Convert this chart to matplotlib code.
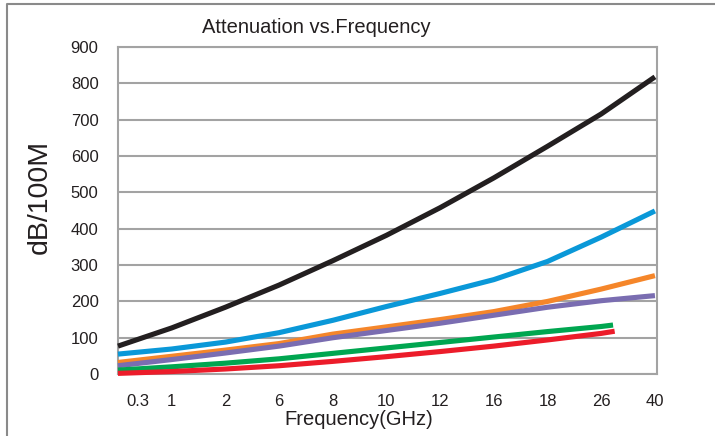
import matplotlib
matplotlib.use('Agg')
import matplotlib.pyplot as plt
from matplotlib.lines import Line2D

plt.rcParams['font.family'] = ['Liberation Sans', 'DejaVu Sans']

# x positions on the chart (evenly spaced categories) and their labels
freq_labels = ['0.3', '1', '2', '6', '8', '10', '12', '16', '18', '26', '40']
tick_pos = [0.37, 1, 2, 3, 4, 5, 6, 7, 8, 9, 10]
pos = [0, 1, 2, 3, 4, 5, 6, 7, 8, 9, 10]
pos_short = [0, 1, 2, 3, 4, 5, 6, 7, 8, 9, 9.22]
pos_short_red = [0, 1, 2, 3, 4, 5, 6, 7, 8, 9, 9.25]

black = [77, 127, 184, 245, 312, 382, 458, 540, 627, 716, 818]
blue = [55, 69, 88, 114, 148, 186, 222, 260, 310, 377, 449]
orange = [32, 49, 66, 84, 110, 130, 150, 172, 200, 234, 271]
purple = [23, 40, 58, 77, 100, 120, 140, 162, 184, 202, 216]
green = [11, 20, 30, 42, 57, 72, 87, 102, 117, 131, 135]
red = [2, 7, 14, 23, 35, 48, 62, 77, 94, 112, 118]

grid_c = '#a3a3a3'
lw = 3.7

fig = plt.figure(figsize=(7.15, 4.36), dpi=100)
ax = fig.add_axes([0.165, 0.142, 0.754, 0.750])

series = [(pos, black, '#231f20'), (pos, blue, '#0a98d8'),
          (pos, orange, '#f5862a'), (pos, purple, '#7a6db1'),
          (pos_short, green, '#00a650'), (pos_short_red, red, '#ec1c2a')]
for x, y, c in series:
    ax.plot(x, y, color=c, lw=lw, solid_capstyle='butt', solid_joinstyle='round',
            clip_on=False, zorder=3)

ax.set_xlim(0, 10.04)
ax.set_ylim(0, 900)
ax.set_yticks(range(0, 1000, 100))
ax.set_xticks(tick_pos)
ax.set_xticklabels(freq_labels)
ax.tick_params(length=0, labelsize=12, colors='#231f20')
ax.tick_params(axis='y', pad=14)
ax.tick_params(axis='x', pad=14)
ax.grid(axis='y', color=grid_c, lw=1.5, zorder=1)
for s in ax.spines.values():
    s.set_color(grid_c)
    s.set_linewidth(1.5)

fig.text(0.442, 0.936, 'Attenuation vs.Frequency', ha='center', va='center',
         fontsize=14.5, color='#231f20')
fig.text(0.502, 0.037, 'Frequency(GHz)', ha='center', va='center',
         fontsize=14.5, color='#231f20')
fig.text(0.056, 0.548, 'dB/100M', ha='center', va='center', rotation=90,
         fontsize=20.5, color='#231f20')

# outer frame (top and left edges)
fig.add_artist(Line2D([0.010, 0.010, 1.0], [0.0, 0.991, 0.991],
                      transform=fig.transFigure, color='#8a8a8a', lw=1.5))

fig.savefig('out.png', dpi=100)
